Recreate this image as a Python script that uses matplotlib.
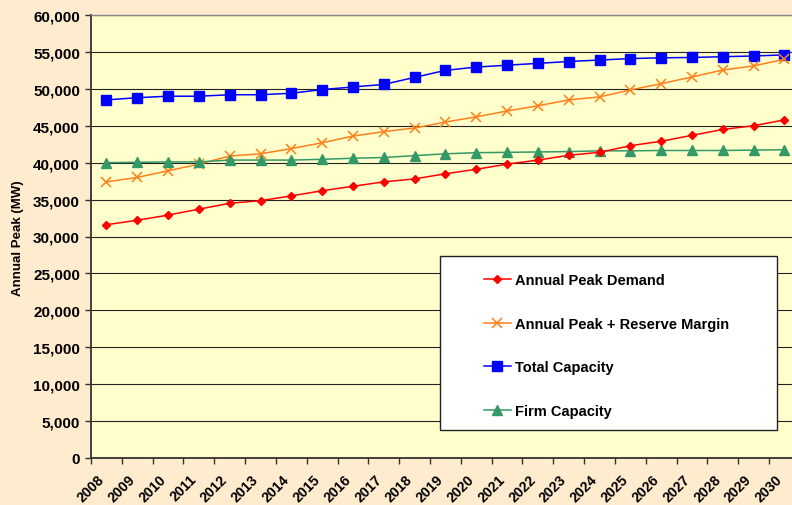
import numpy as np
import matplotlib
matplotlib.use("Agg")
import matplotlib.pyplot as plt
import matplotlib.ticker as ticker
from matplotlib.patches import Rectangle

years = list(range(2008, 2031))

peak_demand = [31600, 32200, 32900, 33700, 34500, 34850, 35500, 36200, 36800, 37400,
               37800, 38500, 39100, 39800, 40350, 41000, 41400, 42300, 42900, 43700,
               44500, 45000, 45800]
peak_reserve = [37400, 38000, 38900, 39800, 40900, 41200, 41900, 42700, 43600, 44200,
                44700, 45500, 46200, 47000, 47700, 48500, 48900, 49850, 50700, 51600,
                52550, 53100, 54000]
total_capacity = [48500, 48800, 49000, 49000, 49200, 49200, 49400, 49900, 50250, 50600,
                  51550, 52500, 52950, 53200, 53450, 53700, 53900, 54100, 54200, 54250,
                  54350, 54450, 54600]
firm_capacity = [40000, 40050, 40100, 40100, 40350, 40350, 40350, 40450, 40600, 40700,
                 40950, 41200, 41350, 41400, 41450, 41500, 41600, 41600, 41650, 41650,
                 41650, 41700, 41750]

plt.rcParams['font.family'] = ['Liberation Sans', 'DejaVu Sans']
plt.rcParams['font.weight'] = 'bold'

W, H = 792, 506
fig = plt.figure(figsize=(W / 100, H / 100), dpi=100)
fig.patch.set_facecolor('#FFEBCD')

# plot area in pixel terms: left 91, top 16, bottom 459, runs past the right edge
ax = fig.add_axes([91 / W, 1 - 459 / H, (W - 91) / W, (459 - 16) / H])
ax.set_facecolor('#FFFFCC')

x = np.arange(len(years))
ax.plot(x, total_capacity, color='#0000FF', lw=1.1, marker='s', ms=6.5,
        label='Total Capacity', zorder=3)
ax.plot(x, peak_reserve, color='#FF7F1A', lw=1.1, marker='x', ms=6.5, mew=1.1,
        label='Annual Peak + Reserve Margin', zorder=3)
ax.plot(x, firm_capacity, color='#339966', lw=1.1, marker='^', ms=7,
        label='Firm Capacity', zorder=3)
ax.plot(x, peak_demand, color='#FF0000', lw=1.1, marker='D', ms=4.2,
        label='Annual Peak Demand', zorder=3)

ax.set_ylim(0, 60000)
ax.set_xlim(-0.5, -0.5 + (W - 91) / 30.82)

ax.yaxis.set_major_locator(ticker.MultipleLocator(5000))
ax.yaxis.set_major_formatter(ticker.FuncFormatter(lambda v, pos: f"{int(v):,}"))
ax.grid(axis='y', color='#222222', lw=0.8, zorder=1)
ax.set_axisbelow(True)

# category boundaries as major ticks, year labels as minor ticks (nudged left like excel)
ax.set_xticks(x - 0.5)
ax.set_xticklabels([])
ax.set_xticks(x - 0.3, [str(y) for y in years], minor=True)
ax.tick_params(axis='x', which='major', length=4, width=1, color='#333333', direction='out')
ax.tick_params(axis='x', which='minor', length=0, pad=10)
for lab in ax.get_xticklabels(minor=True):
    lab.set_rotation(45)
    lab.set_ha('right')
    lab.set_rotation_mode('anchor')
    lab.set_fontsize(10.2)
    lab.set_fontweight('bold')

ax.tick_params(axis='y', length=4, width=1, color='#333333', pad=4, labelsize=11)
for lab in ax.get_yticklabels():
    lab.set_fontweight('bold')

for side in ['left', 'bottom']:
    ax.spines[side].set_color('#333333')
    ax.spines[side].set_linewidth(1.3)
ax.spines['top'].set_color('#888888')
ax.spines['top'].set_linewidth(1.0)
ax.spines['right'].set_visible(False)

fig.text(18 / W, 1 - 238 / H, 'Annual Peak (MW)', rotation=90, ha='center', va='center',
         fontsize=9.5, fontweight='bold')

# legend box
box = Rectangle((440 / W, 1 - 431 / H), (777 - 440) / W, (431 - 257) / H,
                transform=fig.transFigure, facecolor='white', edgecolor='#222222',
                lw=1.0, zorder=4)
ax.add_patch(box)

handles, labels = ax.get_legend_handles_labels()
order = [3, 1, 0, 2]
leg = ax.legend([handles[i] for i in order], [labels[i] for i in order],
                loc='upper left', bbox_to_anchor=(484 / W, 1 - 274 / H),
                bbox_transform=fig.transFigure, frameon=False, borderpad=0,
                borderaxespad=0, handlelength=1.85, handletextpad=0.3,
                labelspacing=2.03, prop={'size': 10.5, 'weight': 'bold'})
leg.set_zorder(5)

fig.savefig('out.png', dpi=100, facecolor=fig.get_facecolor())
